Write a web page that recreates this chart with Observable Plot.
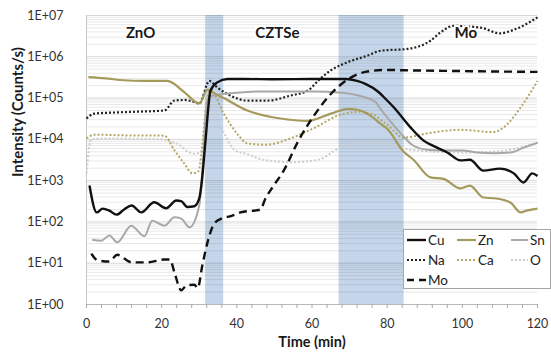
<!DOCTYPE html>
<html><head><meta charset="utf-8">
<script src="https://cdn.jsdelivr.net/npm/d3@7"></script>
<script src="https://cdn.jsdelivr.net/npm/@observablehq/plot@0.6"></script>
<style>
body{margin:0;background:#fff;}
#wrap{position:relative;width:551px;height:356px;font-family:Lato,"Open Sans",sans-serif;}
#legend{position:absolute;left:403px;top:229px;width:146px;height:58px;border:1px solid #a6a6a6;background:#fff;}
</style></head><body><div id="wrap"></div>
<script>
// ---- data ----
const seriesNames = ["Cu","Zn","Sn","Na","Ca","O","Mo"];

const cuTime  = [0.8,2.7,4.3,6,8,10,12,14.6,18,21.2,23.9,25.2,26.8,28.7,30,30.8,31.6,33,34.8,37.5,42,50,60,69,72,74.2,77.7,79.6,81.8,86.2,89.7,93,96,99.5,102,105.6,110,113.7,116.3,118.6,120];
const cuValue = [760,170,210,190,150,200,250,170,300,215,330,320,230,240,370,1200,8000,1.5e5,2.4e5,2.9e5,2.9e5,2.85e5,2.9e5,2.9e5,2.6e5,2.2e5,1.4e5,9.5e4,5.9e4,1.95e4,9.3e3,6.5e3,4.8e3,3.1e3,3.2e3,1.75e3,1.95e3,1.5e3,900,1.5e3,1.3e3];

const znTime  = [0.5,5,10,15,21.5,26,30,32.2,34,36.5,42.8,51.6,58.8,65,69.7,72.9,76,78.2,80,84.4,87,91.5,95,99.5,102,105.6,109,112.8,115.5,117.3,120];
const znValue = [3.2e5,3e5,2.7e5,2.6e5,2.6e5,1.4e5,7.4e4,1.6e5,1.3e5,1e5,5e4,3.2e4,2.8e4,4.2e4,5.5e4,5e4,3.5e4,2.4e4,1.8e4,5e3,3.2e3,1.2e3,1.1e3,650,760,390,370,295,170,190,210];

const snTime  = [1.5,3.9,6.1,8.2,11.9,15.4,17.5,20.7,23.4,25.2,27.4,30,31,32,33,38.3,47,60.4,68,72.4,76.9,78.2,80,83.6,87,90.7,95,100,104,108.3,112.8,116.3,120];
const snValue = [37,35,47,32,81,45,107,81,129,120,74,250,3000,8e4,1.1e5,1.3e5,1.45e5,1.45e5,1.35e5,1.15e5,8e4,5.5e4,3.4e4,1.4e4,7e3,5.6e3,5.4e3,5.4e3,4.8e3,4.6e3,4.8e3,6.3e3,8.3e3];

const naTime  = [0,2.1,8.2,14,20.7,23.4,26,28.7,30,32.7,34.8,37.5,42.8,48.2,54.3,58.8,62.3,65,69.5,74.8,78.2,85.4,91.5,94.2,97.7,104.8,110,113.7,120];
const naValue = [3.2e4,4.2e4,4.5e4,4.7e4,5e4,8.7e4,9e4,8e4,7.4e4,2.6e5,1.8e5,1.25e5,8.7e4,8.7e4,1.15e5,1.5e5,3e5,4.7e5,7.4e5,1.07e6,1.4e6,1.55e6,2.45e6,3.9e6,5.6e6,5.1e6,3.7e6,4.5e6,9e6];

const caTime  = [0,2.1,10,20.7,23.4,26,28.2,29.8,30.6,31.9,33,36.5,40,42.8,47.6,54.8,60.9,67,72.4,76.9,78.2,80,84.4,90.7,99.5,108.3,111,115.5,120];
const caValue = [1.05e4,1.3e4,1.25e4,1.23e4,5.4e3,2.6e3,1.5e3,1.7e3,4.6e3,7.4e4,1.6e5,4.2e4,1.4e4,8e3,7.4e3,1.1e4,1.95e4,3.8e4,4.6e4,3.8e4,3e4,2.3e4,1.1e4,1.4e4,1.7e4,1.5e4,1.95e4,5.9e4,2.6e5];

const oTime   = [0,1.2,5,20,22,25,27,29,30.5,31.5,32.5,33.8,36.5,39.4,42.8,47,54.8,61.7,67,72.4,79.6,84.4,88,100,110,120];
const oValue  = [1500,1e4,1.05e4,1e4,9e3,7e3,5e3,4.5e3,5e3,3e4,1.3e5,5e4,1.5e4,5.5e3,4.4e3,3.2e3,2.8e3,3.2e3,6e3,8e3,8e3,6e3,5.4e3,4.8e3,5.2e3,8.3e3];

const moTime  = [1.3,3,6,8.2,12,16.3,20.7,22.2,23.4,25.2,26.6,28.7,29.6,30.8,32.2,34,35.9,38.6,41,46.3,47.5,49.8,52.4,56.4,60.9,65.5,69.7,74.2,79.6,85,100,120];
const moValue = [17,11.7,11,16,10.5,10.5,12.3,12.3,6,2.2,2.9,3,2.5,8.7,32,91,120,140,170,200,350,760,1.7e3,9.3e3,4.2e4,1.4e5,2.9e5,4.3e5,4.8e5,4.7e5,4.5e5,4.3e5];

const bandStart = [31.7, 67.2];
const bandEnd   = [36.5, 84.5];

const layerNames = ["ZnO","CZTSe","Mo"];
const layerTime  = [14.4, 50.8, 100.9];

const xTicks = [0,20,40,60,80,100,120];
const yTicks = [1,10,100,1e3,1e4,1e5,1e6,1e7];
const yTickLabels = ["1E+00","1E+01","1E+02","1E+03","1E+04","1E+05","1E+06","1E+07"];

// ---- styles ----
const styles = {
  Cu:{stroke:"#111111", width:2.4, dash:null},
  Zn:{stroke:"#a39a5c", width:2.2, dash:null},
  Sn:{stroke:"#a8a8a8", width:2.0, dash:null},
  Na:{stroke:"#222222", width:2.2, dash:"2,2"},
  Ca:{stroke:"#b2a766", width:2.0, dash:"2,2"},
  O: {stroke:"#cccccc", width:2.0, dash:"2,2"},
  Mo:{stroke:"#111111", width:2.4, dash:"8,5"}
};
const seriesData = {
  Cu:[cuTime,cuValue], Zn:[znTime,znValue], Sn:[snTime,snValue],
  Na:[naTime,naValue], Ca:[caTime,caValue], O:[oTime,oValue], Mo:[moTime,moValue]
};
const drawOrder = ["O","Ca","Na","Sn","Zn","Mo","Cu"];

const bands = bandStart.map((s,i)=>({start:s,end:bandEnd[i]}));
const minorY = [];
yTicks.slice(0,-1).forEach(d=>{for(let k=2;k<10;k++) minorY.push(d*k);});
const minorX = d3.range(0,121,4).filter(d=>!xTicks.includes(d));

const lineMarks = drawOrder.map(name=>{
  const [t,v] = seriesData[name];
  const rows = t.map((d,i)=>({t:d,v:v[i]}));
  const s = styles[name];
  return Plot.line(rows,{x:"t",y:"v",stroke:s.stroke,strokeWidth:s.width,
    strokeDasharray:s.dash, curve:"monotone-x", strokeLinecap:"butt", strokeLinejoin:"round"});
});

const chart = Plot.plot({
  width:551, height:356,
  marginLeft:86, marginRight:14, marginTop:15, marginBottom:52,
  x:{domain:[0,120], axis:null},
  y:{type:"log", domain:[1,1e7], axis:null},
  style:{fontFamily:"Lato, 'Open Sans', sans-serif", background:"#fff"},
  marks:[
    Plot.rect(bands,{x1:"start",x2:"end",fill:"#c5d6ea"}),
    Plot.ruleY(minorY,{stroke:"#000",strokeOpacity:0.09}),
    Plot.ruleY(yTicks,{stroke:"#000",strokeOpacity:0.16}),
    Plot.ruleX([0],{stroke:"#c8c8c8"}),
    Plot.ruleY([1],{stroke:"#b8b8b8"}),
    Plot.axisY({ticks:yTicks, tickSize:0, tickPadding:23, fontSize:12.5, color:"#333",
      tickFormat:d=>yTickLabels[yTicks.indexOf(d)], label:null}),
    Plot.axisX({ticks:minorX, tickSize:4, tickFormat:()=>"", stroke:"#aaa", label:null}),
    Plot.axisX({ticks:xTicks, tickSize:4, tickPadding:11, fontSize:12.5, color:"#333",
      stroke:"#aaa", label:null}),
    ...lineMarks,
    Plot.text(layerNames,{x:(d,i)=>layerTime[i], frameAnchor:"top", dy:12, text:d=>d,
      fontWeight:"bold", fontSize:15, fill:"#1a1a1a", stroke:"white", strokeWidth:4}),
    Plot.text(["Intensity (Counts/s)"],{frameAnchor:"left", dx:-68, dy:17, rotate:-90,
      fontWeight:"bold", fontSize:15, fill:"#1a1a1a"}),
    Plot.text(["Time (min)"],{frameAnchor:"bottom", dy:42,
      fontWeight:"bold", fontSize:14.5, fill:"#1a1a1a"})
  ]
});
const wrap = document.getElementById("wrap");
wrap.appendChild(chart);

// ---- legend ----
const legendPos = {
  Cu:[0,0], Zn:[1,0], Sn:[2,0], Na:[0,1], Ca:[1,1], O:[2,1], Mo:[0,2]
};
const colX = [[3,22,24],[53,72,74],[107,124,126]];
const rowY = [10,30,50];
const leg = document.createElement("div");
leg.id = "legend";
let svg = `<svg width="146" height="58" xmlns="http://www.w3.org/2000/svg" style="font-family:Lato,'Open Sans',sans-serif">`;
seriesNames.forEach(name=>{
  const [c,r] = legendPos[name];
  const s = styles[name];
  const [x1,x2,tx] = colX[c];
  const y = rowY[r];
  svg += `<line x1="${x1}" x2="${x2}" y1="${y}" y2="${y}" stroke="${s.stroke}" stroke-width="${s.width}" ${s.dash?`stroke-dasharray="${name==="Mo"?"7,5":s.dash}"`:""}/>`;
  svg += `<text x="${tx}" y="${y}" dy="0.35em" font-size="13.5" fill="#222">${name}</text>`;
});
svg += `</svg>`;
leg.innerHTML = svg;
wrap.appendChild(leg);
</script>
</body></html>
